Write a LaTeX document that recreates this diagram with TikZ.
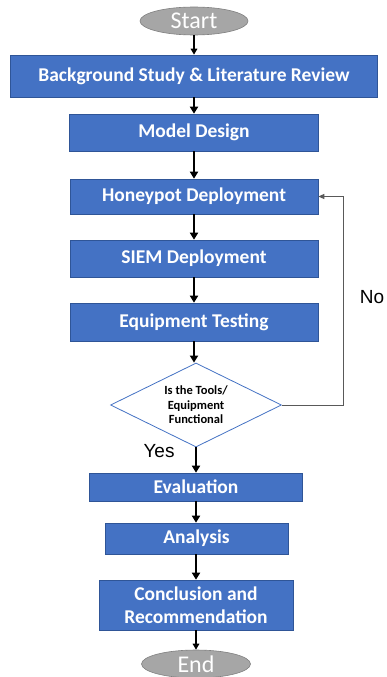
\documentclass[tikz,border=0pt]{standalone}
\usepackage{fontspec}
\setmainfont{Carlito}
\newfontfamily\arialfont{Liberation Sans}
\usetikzlibrary{shapes.geometric,arrows.meta}
\definecolor{boxblue}{HTML}{4472C4}
\definecolor{boxedge}{HTML}{2F5597}
\definecolor{ovalgray}{HTML}{A6A6A6}
\definecolor{ovaledge}{HTML}{808080}
\definecolor{loopgray}{HTML}{595959}
\begin{document}
\begin{tikzpicture}[x=1pt,y=-1pt,
  stepbox/.style={draw=boxedge,line width=0.6pt,fill=boxblue,text=white,
    font=\fontsize{19.5}{23}\selectfont\bfseries,inner sep=0pt,align=center},
  oval/.style={ellipse,draw=ovaledge,line width=0.6pt,fill=ovalgray,text=white,
    font=\fontsize{24}{28}\selectfont,inner sep=0pt},
  decide/.style={diamond,aspect=2.04,draw=boxblue,line width=0.8pt,fill=white,
    font=\fontsize{12.5}{14.5}\selectfont\bfseries,align=center,inner sep=0pt},
  thickarrow/.style={-{Triangle[length=7pt,width=8pt]},line width=2.4pt},
  thinarrow/.style={-{Triangle[length=6pt,width=6.5pt]},line width=1.5pt},
  lbl/.style={font=\arialfont\fontsize{19}{22}\selectfont,inner sep=0pt}]
\useasboundingbox (0,0) rectangle (387,677);
\node[oval,minimum width=108pt,minimum height=28pt] (start) at (194,21) {Start};
\node[stepbox,minimum width=367pt,minimum height=42pt] (b1) at (194,76) {Background Study \& Literature Review};
\node[stepbox,minimum width=249pt,minimum height=37pt] (b2) at (194,132.5) {Model Design};
\node[stepbox,minimum width=248pt,minimum height=35pt] (b3) at (194,196.5) {Honeypot Deployment};
\node[stepbox,minimum width=248pt,minimum height=37pt] (b4) at (194,258.5) {SIEM Deployment};
\node[stepbox,minimum width=248pt,minimum height=38pt] (b5) at (194,322) {Equipment Testing};
\node[decide,minimum width=171pt,minimum height=84pt] (dia) at (196,405) {Is the Tools/\\Equipment\\Functional};
\node[stepbox,minimum width=213pt,minimum height=28pt] (b6) at (196,487) {Evaluation};
\node[stepbox,minimum width=183pt,minimum height=31pt] (b7) at (196.5,538.5) {Analysis};
\node[stepbox,minimum width=194pt,minimum height=50pt] (b8) at (196,605) {Conclusion and\\Recommendation};
\node[oval,minimum width=109pt,minimum height=28pt] (end) at (196,664) {End};
\node[lbl] (yes) at (159,451) {Yes};
\node[lbl] (no) at (372,297) {No};
\coordinate (fb) at (343,196.5);
\draw[thinarrow] (start.south) -- (start.south |- b1.north);
\draw[thickarrow] (b2.north |- b1.south) -- (b2.north);
\draw[thickarrow] (b2.south) -- (b3.north);
\draw[thickarrow] (b3.south) -- (b4.north);
\draw[thickarrow] (b4.south) -- (b5.north);
\draw[thickarrow] (b5.south) -- (b5.south |- dia.north);
\draw[thickarrow] (dia.south) -- (b6.north);
\draw[thickarrow] (b6.south) -- (b6.south |- b7.north);
\draw[thickarrow] (b6.south |- b7.south) -- (b6.south |- b8.north);
\draw[thinarrow] (b8.south) -- (end.north);
\draw[loopgray,line width=1pt,-{Triangle[length=6pt,width=5pt]}] (dia.east) -| (fb) -- (b3.east);
\end{tikzpicture}
\end{document}
